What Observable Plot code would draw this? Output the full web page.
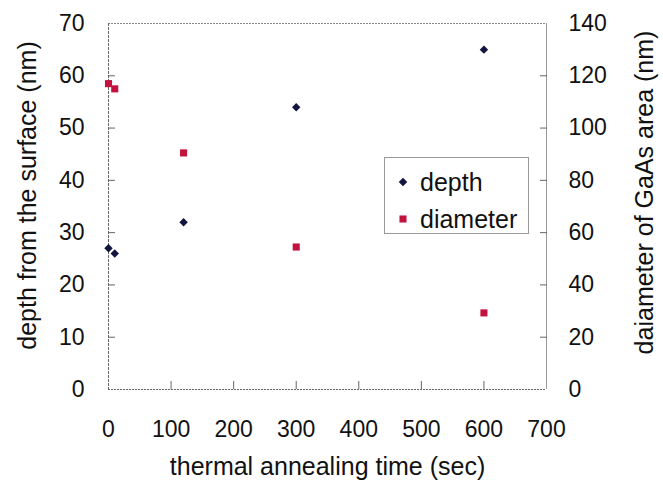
<!DOCTYPE html>
<html><head><meta charset="utf-8">
<script src="https://cdn.jsdelivr.net/npm/d3@7"></script>
<script src="https://cdn.jsdelivr.net/npm/@observablehq/plot@0.6"></script>
<style>
body{margin:0;background:#fff}
#wrap{position:relative;width:663px;height:480px;font-family:"Liberation Sans",Arial,sans-serif}
#legend{position:absolute;left:384px;top:157px}
</style>
</head><body><div id="wrap"></div>
<script>
// data
const times = [0, 10, 120, 300, 600];
const depth = [27, 26, 32, 54, 65];
const diameter = [117, 115, 90.5, 54.5, 29.3];
const xTicks = [0, 100, 200, 300, 400, 500, 600, 700];
const leftTicks = [0, 10, 20, 30, 40, 50, 60, 70];
const rightTicks = [0, 20, 40, 60, 80, 100, 120, 140];
const seriesNames = ["depth", "diameter"];
const xTitle = "thermal annealing time (sec)";
const yTitle = "depth from the surface (nm)";
const y2Title = "daiameter of GaAs area (nm)";

const leftMax = 70, rightMax = 140, ratio = leftMax / rightMax;
const depthColor = "#141440", diamColor = "#c4123e";
const font = "'Liberation Sans', Arial, sans-serif";

const depthData = times.map((t, i) => ({t, v: depth[i]}));
const diamData = times.map((t, i) => ({t, v: diameter[i] * ratio}));

const chart = Plot.plot({
  width: 663, height: 480,
  marginLeft: 108, marginRight: 117, marginTop: 23, marginBottom: 91,
  style: {fontFamily: font, fontSize: "23px", color: "#111", background: "#fff"},
  x: {domain: [0, 700]},
  y: {domain: [0, leftMax]},
  marks: [
    // frame
    Plot.ruleY([0], {stroke: "#666", strokeDasharray: "2,1"}),
    Plot.ruleY([leftMax], {stroke: "#888", strokeDasharray: "2,1"}),
    Plot.ruleX([0], {stroke: "#666", strokeDasharray: "3,1"}),
    Plot.ruleX([700], {stroke: "#999"}),
    // inward ticks
    Plot.axisX({ticks: xTicks.slice(1, -1), tickSize: -8, tickFormat: () => "", label: null, stroke: "#666"}),
    Plot.axisY({ticks: leftTicks.slice(1, -1), anchor: "left", tickSize: -7, tickFormat: () => "", label: null, stroke: "#666"}),
    Plot.axisY({ticks: rightTicks.slice(1, -1).map(v => v * ratio), anchor: "right", tickSize: -7, tickFormat: () => "", label: null, stroke: "#666"}),
    // labels
    Plot.axisX({ticks: xTicks, tickSize: 0, tickPadding: 31, label: null, fontSize: 23, fill: "#111"}),
    Plot.axisY({ticks: leftTicks, anchor: "left", tickSize: 0, tickPadding: 24, label: null, fontSize: 23, fill: "#111"}),
    Plot.axisY({ticks: rightTicks.map(v => v * ratio), anchor: "right", tickSize: 0, tickPadding: 22, tickFormat: d => Math.round(d / ratio), label: null, fontSize: 23, fill: "#111"}),
    // titles
    Plot.text([xTitle], {frameAnchor: "bottom", textAnchor: "middle", lineAnchor: "middle", dy: 77, fontSize: 25, fill: "#111"}),
    Plot.text([yTitle], {frameAnchor: "left", textAnchor: "middle", lineAnchor: "middle", rotate: -90, dx: -81, dy: -11, fontSize: 25, letterSpacing: "1px", fill: "#111"}),
    Plot.text([y2Title], {frameAnchor: "right", textAnchor: "middle", lineAnchor: "middle", rotate: -90, dx: 98, dy: -14, fontSize: 25, fill: "#111"}),
    // data
    Plot.dot(depthData, {x: "t", y: "v", symbol: "diamond2", r: 3.8, fill: depthColor, stroke: "none"}),
    Plot.dot(diamData, {x: "t", y: "v", symbol: "square", r: 4, fill: diamColor, stroke: "none"})
  ]
});

const wrap = document.getElementById("wrap");
wrap.appendChild(chart);

// legend
const leg = d3.create("svg").attr("id", "legend").attr("width", 146).attr("height", 78);
leg.append("rect").attr("x", 0.5).attr("y", 0.5).attr("width", 144).attr("height", 76)
  .attr("fill", "#fff").attr("stroke", "#999");
const colors = [depthColor, diamColor];
const syms = [d3.symbol(d3.symbolDiamond2, 46), d3.symbol(d3.symbolSquare, 50)];
seriesNames.forEach((name, i) => {
  const cy = 25 + i * 37;
  leg.append("path").attr("d", syms[i]()).attr("transform", `translate(19,${cy})`).attr("fill", colors[i]);
  leg.append("text").attr("x", 36).attr("y", cy).attr("dy", "0.35em")
    .attr("font-family", font).attr("font-size", 25).attr("fill", "#111").text(name);
});
wrap.appendChild(leg.node());
</script>
</body></html>
